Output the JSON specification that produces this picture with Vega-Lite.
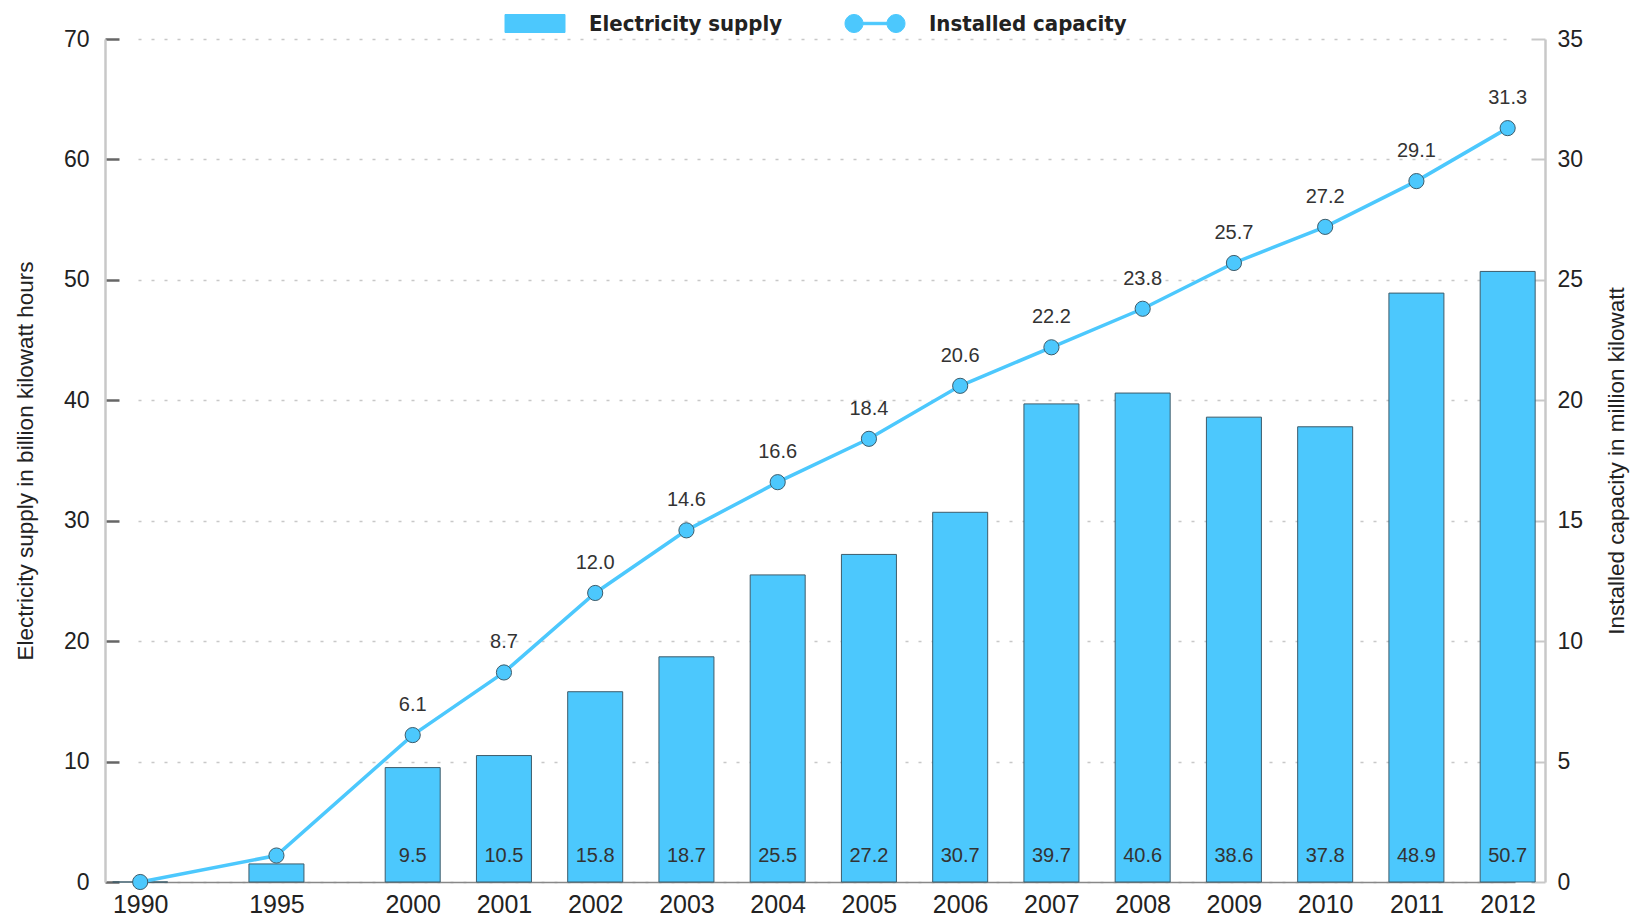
{
  "$schema": "https://vega.github.io/schema/vega-lite/v6.json",
  "width": 1440,
  "height": 843,
  "autosize": "none",
  "padding": {"left": 105, "top": 39, "right": 96, "bottom": 38},
  "background": "white",
  "config": {
    "view": {"stroke": null},
    "font": "Liberation Sans",
    "legend": {
      "orient": "top",
      "direction": "horizontal",
      "layout": {"top": {"anchor": "middle"}},
      "offset": 4,
      "labelFont": "DejaVu Sans Condensed",
      "labelFontSize": 22,
      "labelFontWeight": "bold",
      "labelColor": "#222222",
      "labelLimit": 500,
      "symbolSize": 400,
      "labelOffset": 43,
      "columnPadding": 59
    }
  },
  "data": {
    "values": [
      {"year": 1990, "supply": 0, "cap": 0},
      {"year": 1995, "supply": 1.5, "cap": 1.1},
      {"year": 2000, "supply": 9.5, "cap": 6.1},
      {"year": 2001, "supply": 10.5, "cap": 8.7},
      {"year": 2002, "supply": 15.8, "cap": 12.0},
      {"year": 2003, "supply": 18.7, "cap": 14.6},
      {"year": 2004, "supply": 25.5, "cap": 16.6},
      {"year": 2005, "supply": 27.2, "cap": 18.4},
      {"year": 2006, "supply": 30.7, "cap": 20.6},
      {"year": 2007, "supply": 39.7, "cap": 22.2},
      {"year": 2008, "supply": 40.6, "cap": 23.8},
      {"year": 2009, "supply": 38.6, "cap": 25.7},
      {"year": 2010, "supply": 37.8, "cap": 27.2},
      {"year": 2011, "supply": 48.9, "cap": 29.1},
      {"year": 2012, "supply": 50.7, "cap": 31.3}
    ]
  },
  "encoding": {
    "x": {
      "field": "year",
      "type": "quantitative",
      "scale": {"domain": [1990, 2000, 2012], "range": [33, 307.7, 1410], "zero": false, "nice": false},
      "axis": {
        "title": null,
        "values": [1990, 1995, 2000, 2001, 2002, 2003, 2004, 2005, 2006, 2007, 2008, 2009, 2010, 2011, 2012],
        "format": "d",
        "grid": false,
        "ticks": false,
        "labelFlush": false,
        "labelOverlap": false,
        "labelBound": false,
        "labelFontSize": 25,
        "labelColor": "#222222",
        "labelPadding": 10,
        "domainColor": "#888888",
        "domainWidth": 1.5
      }
    }
  },
  "layer": [
    {
      "encoding": {
        "y": {
          "field": "supply",
          "type": "quantitative",
          "scale": {"domain": [0, 70], "nice": false},
          "axis": {
            "title": "Electricity supply in billion kilowatt hours",
            "titleFont": "Liberation Sans",
            "titleFontSize": 22.5,
            "titleFontWeight": "normal",
            "titleColor": "#222222",
            "titlePadding": 26,
            "values": [0, 10, 20, 30, 40, 50, 60, 70],
            "labelFontSize": 23,
            "labelColor": "#222222",
            "labelPadding": 30,
            "tickSize": -14,
            "tickColor": "#666666",
            "tickWidth": 2.5,
            "domainColor": "#c8c8c8",
            "domainWidth": 2.5,
            "grid": true,
            "gridColor": "#c8c8c8",
            "gridDash": [3, 10],
            "gridWidth": 1.5
          }
        }
      },
      "layer": [
        {
          "mark": {"type": "bar", "width": 55, "stroke": "#3d5c6b", "strokeWidth": 1},
          "encoding": {
            "color": {
              "datum": "Electricity supply",
              "scale": {"domain": ["Electricity supply", "Installed capacity"], "range": ["#4CC8FD", "#4CC8FD"]},
              "legend": {
                "title": null,
                "symbolType": {"expr": "datum.value === 'Electricity supply' ? 'M-3,-0.9H3V0.9H-3Z' : 'M-3,0A0.9,0.9 0 1,0 -1.2,0A0.9,0.9 0 1,0 -3,0Z M1.2,0A0.9,0.9 0 1,0 3,0A0.9,0.9 0 1,0 1.2,0Z M-1.2,-0.12H1.2V0.12H-1.2Z'"},
                "symbolFillColor": "#4CC8FD",
                "symbolStrokeColor": "#3d5c6b",
                "symbolStrokeWidth": 1,
                "symbolOpacity": 1
              }
            }
          }
        },
        {
          "transform": [{"filter": "datum.year >= 2000"}],
          "mark": {"type": "text", "fontSize": 20, "color": "#333333", "baseline": "middle", "dy": -26},
          "encoding": {
            "y": {"datum": 0},
            "text": {"field": "supply", "type": "quantitative", "format": ".1f"}
          }
        }
      ]
    },
    {
      "encoding": {
        "y": {
          "field": "cap",
          "type": "quantitative",
          "scale": {"domain": [0, 35], "nice": false},
          "axis": {
            "orient": "right",
            "title": "Installed capacity in million kilowatt",
            "titleAngle": -90,
            "titleFont": "Liberation Sans",
            "titleFontSize": 22.5,
            "titleFontWeight": "normal",
            "titleColor": "#222222",
            "titlePadding": 46,
            "values": [0, 5, 10, 15, 20, 25, 30, 35],
            "labelFontSize": 23,
            "labelColor": "#222222",
            "labelPadding": 26,
            "tickSize": -14,
            "tickColor": "#c8c8c8",
            "tickWidth": 2,
            "domainColor": "#c8c8c8",
            "domainWidth": 2.5,
            "grid": false
          }
        }
      },
      "layer": [
        {
          "mark": {"type": "line", "strokeWidth": 3.5},
          "encoding": {"color": {"datum": "Installed capacity"}}
        },
        {
          "mark": {"type": "point", "filled": true, "size": 230, "opacity": 1, "stroke": "#3d5c6b", "strokeWidth": 1},
          "encoding": {"color": {"datum": "Installed capacity"}}
        },
        {
          "transform": [{"filter": "datum.year >= 2000"}],
          "mark": {"type": "text", "fontSize": 20, "color": "#333333", "baseline": "middle", "dy": -30},
          "encoding": {
            "text": {"field": "cap", "type": "quantitative", "format": ".1f"}
          }
        }
      ]
    }
  ],
  "resolve": {"scale": {"y": "independent"}}
}
